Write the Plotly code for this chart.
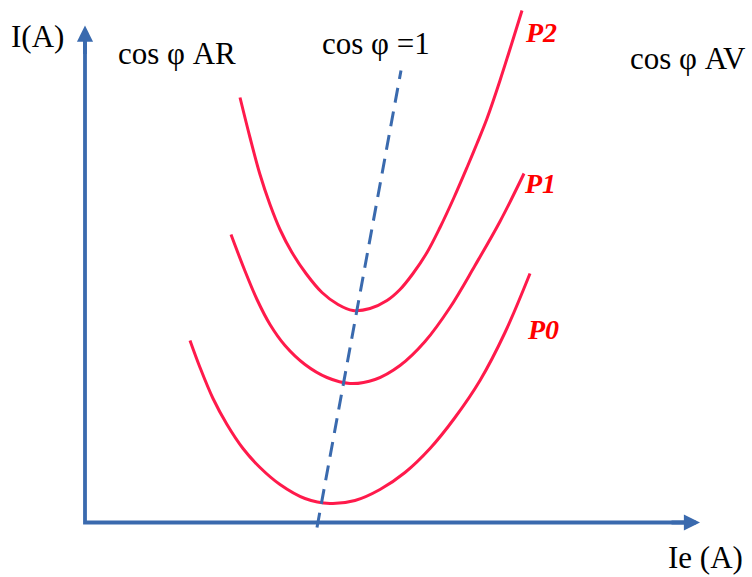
import plotly.graph_objects as go

# V-curves of a synchronous machine (arbitrary units, origin at axes corner)
p2_ie = [155, 165, 175, 185, 195, 207, 221, 237, 253, 268, 285, 302, 315, 328, 342,
         355, 369, 382, 392, 402, 415, 437]
p2_i = [425, 385, 348, 318, 293, 270, 249, 230, 218, 212, 214, 222, 233, 249, 270,
        295, 325, 355, 379, 404, 442, 512]

p1_ie = [146, 159, 172, 185, 200, 220, 242, 265, 290, 315, 340, 365, 390, 415, 439]
p1_i = [288, 254, 223, 198, 177, 158, 145, 139, 143, 157, 181, 215, 257, 301, 349]

p0_ie = [105, 115, 128, 142, 158, 175, 195, 220, 245, 270, 295, 320, 345, 370, 395, 420, 445]
p0_i = [182, 155, 124, 98, 74, 55, 38, 24, 19, 22, 33, 50, 74, 105, 142, 190, 249]

unity_ie = [232, 316]
unity_i = [-5, 452]

curve_labels = ["P2", "P1", "P0"]
label_ie = [456, 455, 458]
label_i = [490, 339, 193]

axis_ie = [0, 0, 602]
axis_i = [482, 0, 0]
arrow_tip_ie = [0, 615]
arrow_tip_i = [497, 0]

RED = "#FF1A4B"
BLUE = "#3A6AAE"
FONT = "Liberation Serif"

fig = go.Figure()

fig.add_trace(go.Scatter(x=axis_ie, y=axis_i, mode="lines",
                         line=dict(color=BLUE, width=3.8), hoverinfo="skip"))
for xs, ys in [(p2_ie, p2_i), (p1_ie, p1_i), (p0_ie, p0_i)]:
    fig.add_trace(go.Scatter(x=xs, y=ys, mode="lines",
                             line=dict(color=RED, width=3, shape="spline", smoothing=1.0),
                             hoverinfo="skip"))
fig.add_trace(go.Scatter(x=unity_ie, y=unity_i, mode="lines",
                         line=dict(color=BLUE, width=3, dash="15px,9px"), hoverinfo="skip"))

annotations = []
# arrow heads of the axes
annotations.append(dict(x=arrow_tip_ie[0], y=arrow_tip_i[0], ax=0, ay=arrow_tip_i[0] - 30,
                        xref="x", yref="y", axref="x", ayref="y", text="", showarrow=True,
                        arrowhead=2, arrowsize=0.85, arrowwidth=3.8, arrowcolor=BLUE))
annotations.append(dict(x=arrow_tip_ie[1], y=arrow_tip_i[1], ax=arrow_tip_ie[1] - 30, ay=0,
                        xref="x", yref="y", axref="x", ayref="y", text="", showarrow=True,
                        arrowhead=2, arrowsize=0.85, arrowwidth=3.8, arrowcolor=BLUE))

for t, x, y in zip(curve_labels, label_ie, label_i):
    annotations.append(dict(x=x, y=y, xref="x", yref="y", text="<b><i>" + t + "</i></b>",
                            showarrow=False, xanchor="center", yanchor="middle",
                            font=dict(family=FONT, size=28, color="#FF0000")))

texts = [
    ("I(A)", -48, 486),
    ("cos φ AR", 92, 469),
    ("cos φ =1", 291, 479),
    ("cos φ AV", 603, 464),
    ("Ie (A)", 620, -35),
]
for t, x, y in texts:
    annotations.append(dict(x=x, y=y, xref="x", yref="y", text=t, showarrow=False,
                            xanchor="center", yanchor="middle",
                            font=dict(family=FONT, size=31, color="#000000")))

fig.update_layout(
    width=752, height=577,
    margin=dict(l=0, r=0, t=0, b=0),
    paper_bgcolor="white", plot_bgcolor="white",
    showlegend=False,
    xaxis=dict(range=[-85, 667], visible=False, fixedrange=True),
    yaxis=dict(range=[-54.5, 522.5], visible=False, fixedrange=True),
    annotations=annotations,
)

fig.write_html("out.html", config={"displayModeBar": False},
               post_script="document.body.style.margin='0';document.body.style.overflow='hidden';")
